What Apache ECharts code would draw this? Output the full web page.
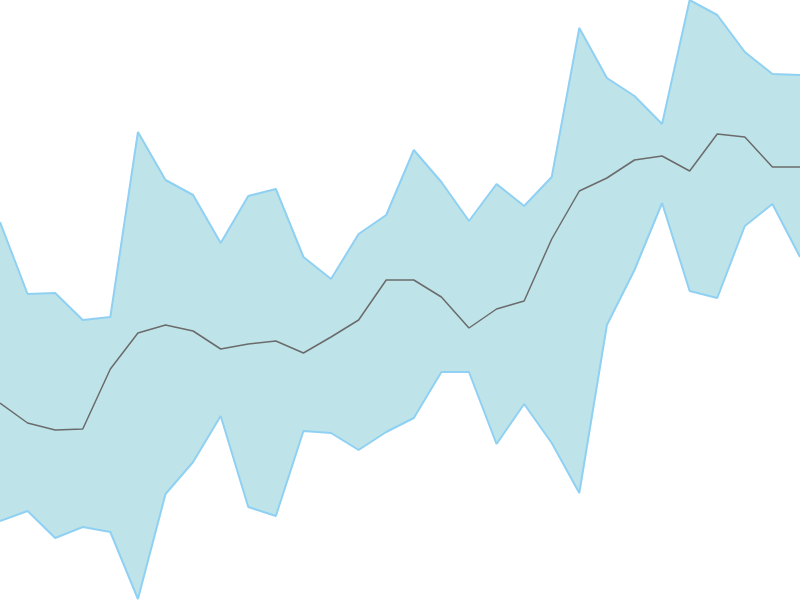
<!DOCTYPE html>
<html>
<head>
<meta charset="utf-8">
<script src="https://cdn.jsdelivr.net/npm/echarts@6/dist/echarts.min.js"></script>
<style>
html, body { margin: 0; padding: 0; background: #fff; }
#main { width: 800px; height: 600px; }
</style>
</head>
<body>
<div id="main"></div>
<script>
// 数据
var categories = [];
for (var i = 1; i <= 30; i++) categories.push(String(i));

var upper = [378, 306, 307, 280, 283, 468, 420, 405, 357, 404, 411, 343, 321, 366, 385,
             450, 418, 379, 416, 394, 423, 572, 522, 504, 476, 600, 585, 548, 526, 525];
var lower = [79, 89, 62, 73, 68, 1, 106, 138, 184, 93, 84, 169, 167, 150, 168,
             182, 228, 228, 156, 196, 157, 107, 275, 330, 397, 309, 302, 374, 396, 343];
var middle = [197, 177, 170, 171, 231, 267, 275, 269, 251, 256, 259, 247, 263, 280, 320,
              320, 303, 272, 291, 299, 361, 409, 422, 440, 444, 429, 466, 463, 433, 433];

// band = upper - lower, stacked on lower
var band = upper.map(function (v, i) { return v - lower[i]; });

var myChart = echarts.init(document.getElementById('main'));

var option = {
    animation: false,
    grid: { left: 0, right: 0, top: 0, bottom: 0 },
    xAxis: {
        type: 'category',
        data: categories,
        boundaryGap: false,
        show: false
    },
    yAxis: {
        type: 'value',
        min: 0,
        max: 600,
        show: false
    },
    series: [{
        name: 'L',
        type: 'line',
        data: lower,
        stack: 'band',
        symbol: 'none',
        z: 3,
        lineStyle: { color: '#8fd0f3', width: 2 }
    }, {
        name: 'U',
        type: 'line',
        data: band,
        stack: 'band',
        symbol: 'none',
        z: 2,
        lineStyle: { color: '#8fd0f3', width: 2 },
        areaStyle: { color: '#bee4e9', opacity: 1 }
    }, {
        name: 'M',
        type: 'line',
        data: middle,
        symbol: 'none',
        z: 4,
        lineStyle: { color: '#6b6b6b', width: 1.5 }
    }]
};

myChart.setOption(option);
</script>
</body>
</html>
